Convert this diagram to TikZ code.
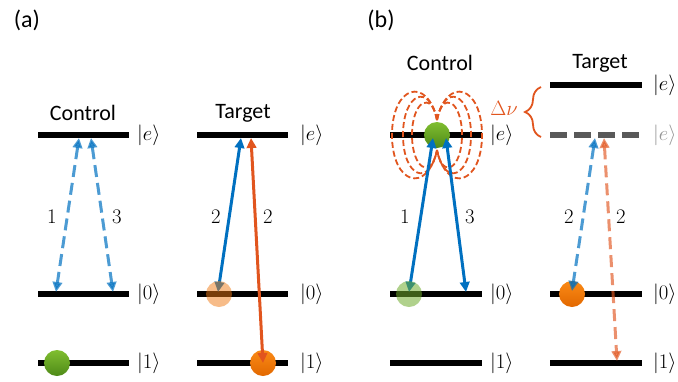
\documentclass[tikz,border=0pt]{standalone}
\usepackage{fontspec}
\setmainfont{Carlito}
\usetikzlibrary{arrows.meta,decorations.pathreplacing}

\definecolor{trblue}{RGB}{0,112,192}
\definecolor{trorange}{RGB}{225,85,30}
\definecolor{greenT}{RGB}{128,190,48}
\definecolor{greenB}{RGB}{78,138,24}
\definecolor{orangeT}{RGB}{250,138,22}
\definecolor{orangeB}{RGB}{226,104,0}
\definecolor{fadegreen}{RGB}{112,172,45}
\definecolor{fadeorange}{RGB}{240,122,20}
\definecolor{shiftgray}{RGB}{89,89,89}
\definecolor{ketgray}{RGB}{150,150,150}

\begin{document}
\begin{tikzpicture}[x=1pt,y=-1pt,
  level/.style={line width=5.5pt},
  ket/.style={anchor=west, inner sep=0pt, font=\fontsize{20}{22}\selectfont},
  title/.style={inner sep=0pt, font=\fontsize{22}{26}\selectfont},
  panel/.style={inner sep=0pt, font=\fontsize{24}{28}\selectfont},
  num/.style={inner sep=0pt, font=\fontsize{21}{24}\selectfont},
  tip/.style={{Triangle[length=10pt,width=9.5pt]}-{Triangle[length=10pt,width=9.5pt]}},
  solidblue/.style={tip, line width=3pt, trblue},
  solidorange/.style={tip, line width=3pt, trorange},
  dashblue/.style={tip, line width=3pt, trblue, opacity=0.7, dash pattern=on 12pt off 6pt},
  dashorange/.style={tip, line width=3pt, trorange, opacity=0.65, dash pattern=on 12pt off 6pt},
  field/.style={line width=1.8pt, trorange, dash pattern=on 6pt off 3pt},
  atom/.style={circle, inner sep=0pt, minimum size=26pt},
  greenatom/.style={atom, top color=greenT, bottom color=greenB},
  orangeatom/.style={atom, top color=orangeT, bottom color=orangeB},
  fadedgreen/.style={atom, fill=fadegreen, fill opacity=0.55},
  fadedorange/.style={atom, fill=fadeorange, fill opacity=0.5}
]
\useasboundingbox (0,0) rectangle (678,381);

% ---------------- panel (a) ----------------
\node[panel] (pa) at (27,20) {(a)};
\node[title] (actl) at (83,113) {Control};
\node[title] (atgt) at (243,113) {Target};

% control levels
\draw[level] (38,135) -- (129,135);
\draw[level] (38,294) -- (129,294);
\draw[level] (38,363) -- (129,363);
\node[ket] (ace) at (137,135) {$|e\rangle$};
\node[ket] (ac0) at (137,294) {$|0\rangle$};
\node[ket] (ac1) at (137,363) {$|1\rangle$};

% target levels
\draw[level] (197,135) -- (288,135);
\draw[level] (197,294) -- (288,294);
\draw[level] (197,363) -- (288,363);
\node[ket] (ate) at (300,135) {$|e\rangle$};
\node[ket] (at0) at (300,294) {$|0\rangle$};
\node[ket] (at1) at (300,363) {$|1\rangle$};

% atoms
\node[greenatom] (agreen) at (57,363) {};
\node[orangeatom] (aorange) at (263,363) {};

% transitions of the control
\coordinate (ac1top) at (79,138);
\coordinate (ac1bot) at (56,292);
\coordinate (ac3top) at (91,138);
\coordinate (ac3bot) at (113,292);
\draw[dashblue] (ac1top) -- (ac1bot);
\draw[dashblue] (ac3top) -- (ac3bot);
\node[num] (an1) at (52,217) {$1$};
\node[num] (an3) at (117,217) {$3$};

% transitions of the target
\coordinate (atbtop) at (241,138);
\coordinate (atbbot) at (218,292);
\coordinate (atotop) at (251,138);
\draw[solidblue] (atbtop) -- (atbbot);
\draw[solidorange] (atotop) -- (aorange.center);
\node[num] (an2a) at (216,217) {$2$};
\node[num] (an2b) at (268,217) {$2$};

\node[fadedorange] (afade) at (219,294) {};

% ---------------- panel (b) ----------------
\node[panel] (pb) at (381,20) {(b)};
\node[title] (bctl) at (440,63) {Control};
\node[title] (btgt) at (600,63) {Target};

% control levels
\draw[level] (390,135) -- (482,135);
\draw[level] (390,294) -- (482,294);
\draw[level] (390,363) -- (482,363);
\node[ket] (bce) at (490,135) {$|e\rangle$};
\node[ket] (bc0) at (490,294) {$|0\rangle$};
\node[ket] (bc1) at (490,363) {$|1\rangle$};

% target levels: unshifted and shifted excited state
\draw[level] (550,85) -- (642,85);
\draw[level, shiftgray, dash pattern=on 17pt off 7pt] (550,135) -- (642,135);
\draw[level] (550,294) -- (642,294);
\draw[level] (550,363) -- (642,363);
\node[ket] (bte) at (653,85) {$|e\rangle$};
\node[ket, ketgray] (btes) at (653,135) {$|e\rangle$};
\node[ket] (bt0) at (653,294) {$|0\rangle$};
\node[ket] (bt1) at (653,363) {$|1\rangle$};

% dipole field of the excited control atom
\foreach \a/\h in {45/47, 34/40, 25/32} {
  \draw[field] (437,120) .. controls (437-0.22*\a,120-0.95*\h) and (437-\a,135-1.05*\h) .. (437-\a,135)
               .. controls (437-\a,135+1.05*\h) and (437-0.22*\a,150+0.95*\h) .. (437,150);
  \draw[field] (437,120) .. controls (437+0.22*\a,120-0.95*\h) and (437+\a,135-1.05*\h) .. (437+\a,135)
               .. controls (437+\a,135+1.05*\h) and (437+0.22*\a,150+0.95*\h) .. (437,150);
}
\node[greenatom] (bgreen) at (437,135) {};

% energy shift
\draw[trorange, line width=1.8pt, decorate, decoration={brace, amplitude=16pt}]
  (541,137) -- (541,87);
\node[inner sep=0pt, trorange, font=\fontsize{20}{22}\selectfont] (dnu) at (504,108) {$\Delta\nu$};

% transitions of the control
\coordinate (bc1top) at (433,138);
\coordinate (bc1bot) at (409,292);
\coordinate (bc3top) at (446,138);
\coordinate (bc3bot) at (466,292);
\draw[solidblue] (bc1top) -- (bc1bot);
\draw[solidblue] (bc3top) -- (bc3bot);
\node[num] (bn1) at (405,217) {$1$};
\node[num] (bn3) at (470,217) {$3$};
\node[fadedgreen] (bfade) at (409,294) {};

% transitions of the target
\node[orangeatom] (borange) at (572,294) {};
\coordinate (btbtop) at (595,138);
\coordinate (btbbot) at (572,291);
\coordinate (btotop) at (604,138);
\coordinate (btobot) at (617,361);
\draw[dashblue] (btbtop) -- (btbbot);
\draw[dashorange] (btotop) -- (btobot);
\node[num] (bn2a) at (569,217) {$2$};
\node[num] (bn2b) at (621,217) {$2$};
\end{tikzpicture}
\end{document}
